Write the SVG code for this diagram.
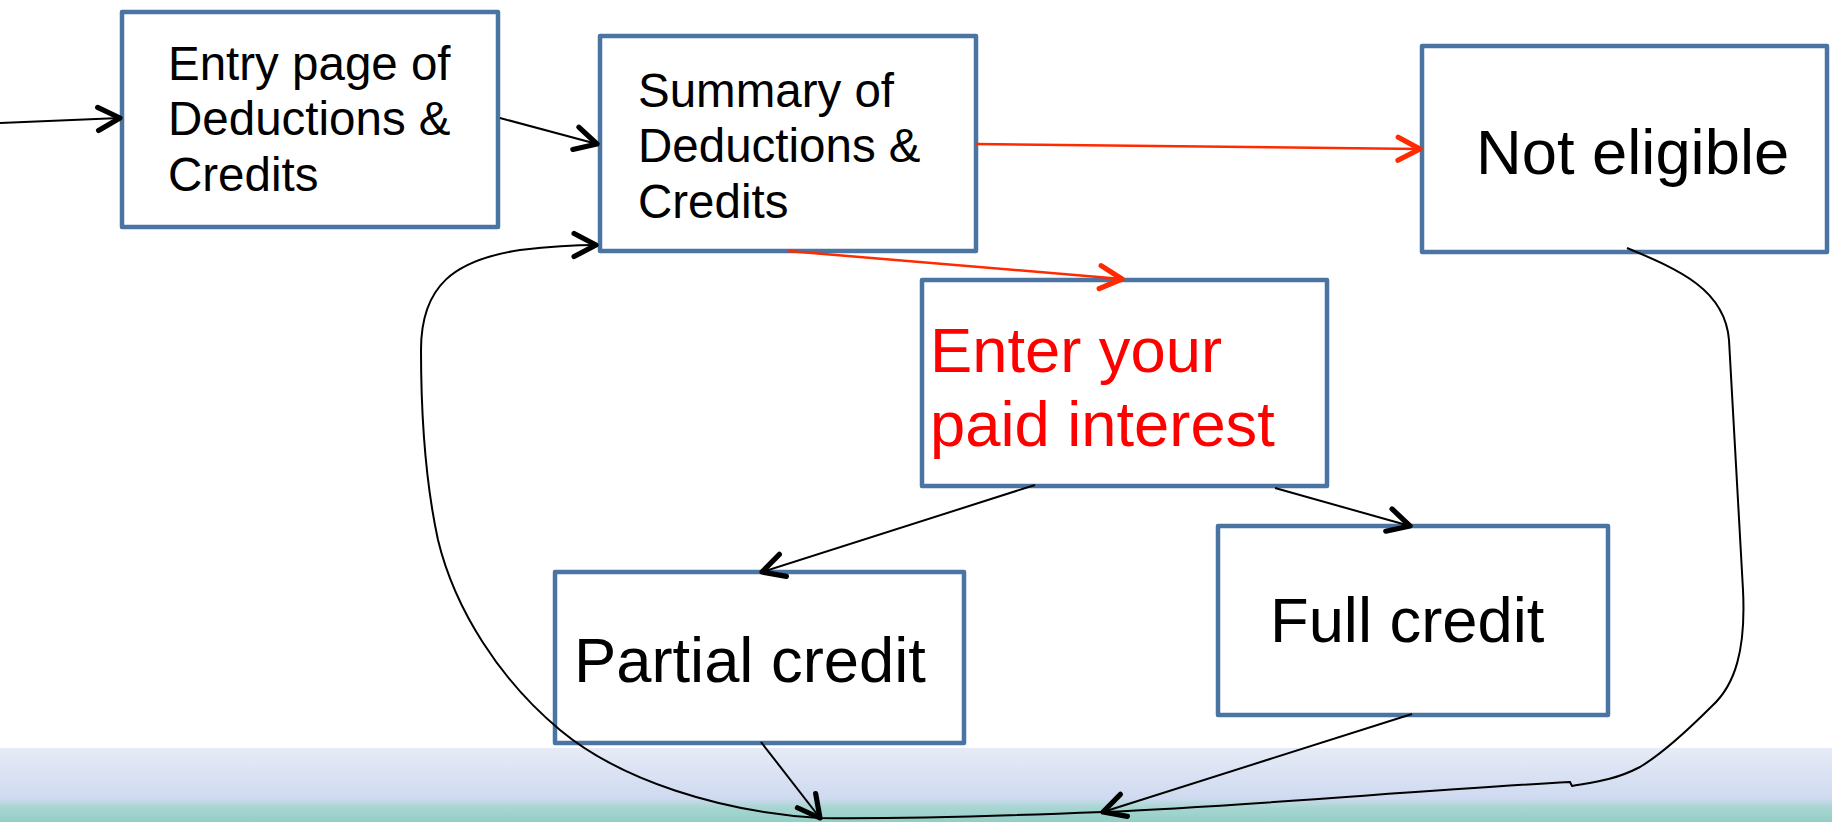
<svg xmlns="http://www.w3.org/2000/svg" width="1832" height="822" viewBox="0 0 1832 822">
<defs>
<linearGradient id="band" x1="0" y1="0" x2="0" y2="1">
<stop offset="0" stop-color="#E6EBF6"/>
<stop offset="0.68" stop-color="#CFDAF0"/>
<stop offset="0.8" stop-color="#A8D6D2"/>
<stop offset="1" stop-color="#92CFC6"/>
</linearGradient>
<marker id="ab" markerUnits="userSpaceOnUse" markerWidth="30" markerHeight="30" viewBox="-22 -12 26 24" refX="0" refY="0" orient="auto" overflow="visible">
<path d="M-19,-10 L0,0 L-19,10" fill="none" stroke="#000" stroke-width="4.5" stroke-linecap="round" stroke-linejoin="round"/>
</marker>
<marker id="ar" markerUnits="userSpaceOnUse" markerWidth="30" markerHeight="30" viewBox="-22 -12 26 24" refX="0" refY="0" orient="auto" overflow="visible">
<path d="M-19,-10 L0,0 L-19,10" fill="none" stroke="#FF2A00" stroke-width="4.5" stroke-linecap="round" stroke-linejoin="round"/>
</marker>
</defs>
<style>
.box{fill:#fff;stroke:#4A74A2;stroke-width:4.5;stroke-linejoin:round}
.t{font-family:"Liberation Sans",Arial,sans-serif;fill:#000}
.s{font-size:47.5px}
.b{font-size:63.3px}
.red{fill:#FF0000}
.cb{fill:none;stroke:#000;stroke-width:2}
.cr{fill:none;stroke:#FF2A00;stroke-width:2.5}
</style>
<rect x="0" y="0" width="1832" height="822" fill="#fff"/>
<rect x="0" y="748" width="1832" height="74" fill="url(#band)"/>

<g id="n-entry">
<rect class="box" x="122" y="12" width="376" height="215"/>
<text class="t s" x="168" y="80">Entry page of</text>
<text class="t s" x="168" y="135">Deductions &amp;</text>
<text class="t s" x="168" y="191">Credits</text>
</g>
<g id="n-summary">
<rect class="box" x="600" y="36" width="376" height="215"/>
<text class="t s" x="638" y="107">Summary of</text>
<text class="t s" x="638" y="162">Deductions &amp;</text>
<text class="t s" x="638" y="218">Credits</text>
</g>
<g id="n-noteligible">
<rect class="box" x="1422" y="46" width="405" height="206"/>
<text class="t b" x="1476" y="174">Not eligible</text>
</g>
<g id="n-enter">
<rect class="box" x="922" y="280" width="405" height="206"/>
<text class="t b red" x="930" y="372">Enter your</text>
<text class="t b red" x="930" y="446">paid interest</text>
</g>
<g id="n-partial">
<rect class="box" x="555" y="572" width="409" height="171"/>
<text class="t b" x="574" y="682">Partial credit</text>
</g>
<g id="n-full">
<rect class="box" x="1218" y="526" width="390" height="189"/>
<text class="t b" x="1270" y="642">Full credit</text>
</g>

<g id="connectors">
<path class="cb" d="M0,123 L120,118" marker-end="url(#ab)"/>
<path class="cb" d="M500,118 L597,144" marker-end="url(#ab)"/>
<path class="cr" d="M976,144 L1420,149" marker-end="url(#ar)"/>
<path class="cr" d="M788,251 L1122,279" marker-end="url(#ar)"/>
<path class="cb" d="M1035,485 L762,572" marker-end="url(#ab)"/>
<path class="cb" d="M1275,488 L1410,526" marker-end="url(#ab)"/>
<path class="cb" d="M761,742 L820,818" marker-end="url(#ab)"/>
<path class="cb" d="M1412,714 L1103,812" marker-end="url(#ab)"/>
<path class="cb" d="M1627,248 C1680,270 1725,290 1729,340 L1743,590 C1746,650 1735,685 1712,706 C1690,728 1665,752 1640,767 C1615,780 1595,782 1572,786 L1570,782 C1420,790 1250,806 1103,812 C1000,816 900,819 820,818 C720,812 620,780 560,730 C500,680 455,610 438,540 C425,480 421,420 421,350 C421,285 455,260 520,250 C555,246 575,245 596,245" marker-end="url(#ab)"/>
</g>
</svg>
